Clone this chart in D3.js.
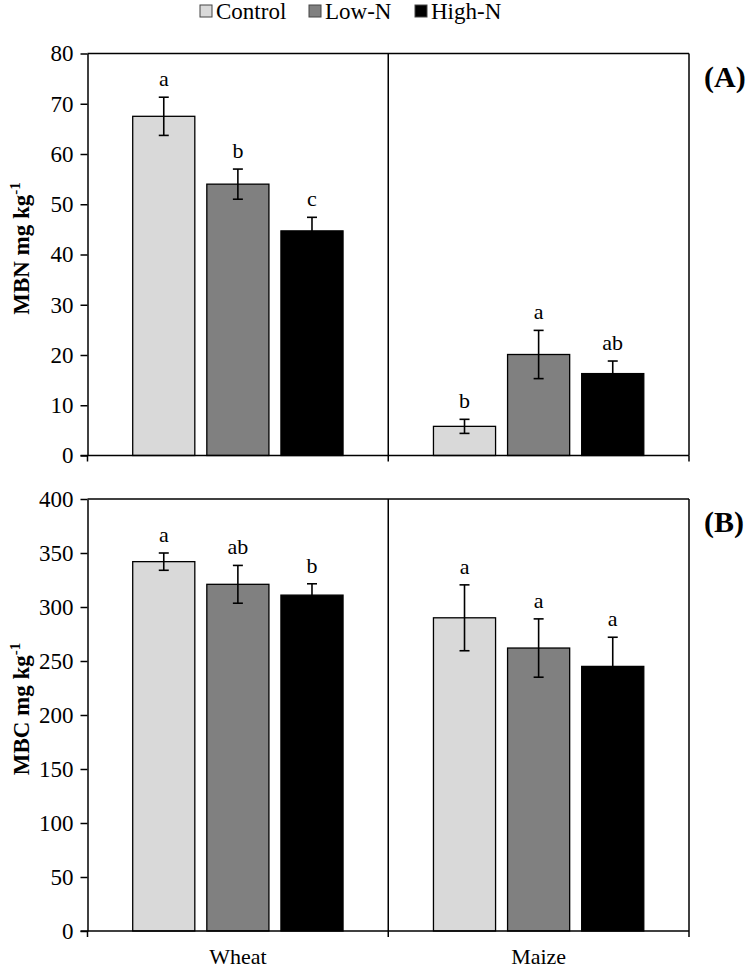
<!DOCTYPE html>
<html>
<head>
<meta charset="utf-8">
<script src="https://cdn.jsdelivr.net/npm/d3@7/dist/d3.min.js"></script>
<style>
  body { margin: 0; background: #fff; }
  svg text { font-family: "Liberation Serif", "Times New Roman", serif; fill: #000; }
</style>
</head>
<body>
<svg id="chart" width="750" height="969"></svg>
<script>
const crops = ["Wheat", "Maize"];
const treatments = ["Control", "Low-N", "High-N"];
const fills = ["#d9d9d9", "#808080", "#000000"];

// MBN (mg/kg), rows = crop, cols = treatment
const mbnMean = [[67.5, 54.0, 44.7], [5.8, 20.1, 16.3]];
const mbnErr  = [[3.8, 3.0, 2.7], [1.4, 4.8, 2.5]];
const mbnSig  = [["a", "b", "c"], ["b", "a", "ab"]];

// MBC (mg/kg)
const mbcMean = [[342, 321, 311], [290, 262, 245]];
const mbcErr  = [[8, 17.5, 10.5], [30.5, 27, 27]];
const mbcSig  = [["a", "ab", "b"], ["a", "a", "a"]];

const mbnTicks = [0, 10, 20, 30, 40, 50, 60, 70, 80];
const mbcTicks = [0, 50, 100, 150, 200, 250, 300, 350, 400];

const FONT = '"Liberation Serif", "Times New Roman", serif';
const svg = d3.select("#chart");
const L = 87.5, R = 689;

const x0 = d3.scaleBand().domain(crops).range([L, R]);
const x1 = d3.scaleBand().domain(treatments).range([0, x0.bandwidth()])
    .paddingInner(0.162).paddingOuter(0.61);

function panel(o) {
    const g = svg.append("g");
    const y = d3.scaleLinear().domain([0, o.max]).range([o.bottom, o.top]);

    // bars
    crops.forEach((c, ci) => {
        treatments.forEach((t, ti) => {
            const x = x0(c) + x1(t);
            const v = o.mean[ci][ti], e = o.err[ci][ti];
            g.append("rect").attr("x", x).attr("y", y(v))
                .attr("width", x1.bandwidth()).attr("height", y(0) - y(v))
                .attr("fill", fills[ti]).attr("stroke", "#000").attr("stroke-width", 1.3);
            const cx = x + x1.bandwidth() / 2;
            const eb = g.append("g").attr("stroke", "#000").attr("stroke-width", 1.6);
            eb.append("line").attr("x1", cx).attr("x2", cx).attr("y1", y(v - e)).attr("y2", y(v + e));
            eb.append("line").attr("x1", cx - 5).attr("x2", cx + 5).attr("y1", y(v + e)).attr("y2", y(v + e));
            eb.append("line").attr("x1", cx - 5).attr("x2", cx + 5).attr("y1", y(v - e)).attr("y2", y(v - e));
            g.append("text").attr("x", cx).attr("y", y(v + e) - 11)
                .attr("text-anchor", "middle").style("font-size", "22px").text(o.sig[ci][ti]);
        });
    });

    // frame
    const fr = g.append("g").attr("stroke", "#000").attr("stroke-width", 1.5).attr("fill", "none");
    fr.append("line").attr("x1", L).attr("x2", R).attr("y1", o.top).attr("y2", o.top);
    fr.append("line").attr("x1", R).attr("x2", R).attr("y1", o.top).attr("y2", o.bottom);
    fr.append("line").attr("x1", x0("Maize")).attr("x2", x0("Maize")).attr("y1", o.top).attr("y2", o.bottom);

    // y axis
    const ya = g.append("g").attr("transform", `translate(${L},0)`)
        .call(d3.axisLeft(y).tickValues(o.ticks).tickSize(7).tickPadding(7).tickSizeOuter(0));
    ya.select(".domain").attr("stroke-width", 1.5);
    ya.selectAll(".tick line").attr("stroke-width", 1.5);
    ya.selectAll(".tick text").style("font-size", "23px").style("font-family", FONT);

    // x axis
    const xa = g.append("g").attr("transform", `translate(0,${o.bottom})`)
        .call(d3.axisBottom(x0).tickSize(0).tickPadding(17).tickSizeOuter(0));
    xa.select(".domain").attr("d", `M${L - 7},0H${R}`).attr("stroke-width", 1.5);
    xa.selectAll(".tick text").style("font-size", "22px").style("font-family", FONT)
        .style("display", o.catLabels ? null : "none");
    [L, x0("Maize"), R].forEach(px => {
        xa.append("line").attr("x1", px).attr("x2", px).attr("y1", 0).attr("y2", 6)
            .attr("stroke", "#000").attr("stroke-width", 1.5);
    });

    // y title
    const t = g.append("text")
        .attr("transform", `translate(29,${(o.top + o.bottom) / 2 - 6}) rotate(-90)`)
        .attr("text-anchor", "middle").style("font-size", "23px").style("font-weight", "bold");
    t.append("tspan").text(o.title);
    t.append("tspan").attr("dy", -9).style("font-size", "15px").text("-1");

    // panel letter
    g.append("text").attr("x", 704).attr("y", o.top + 33)
        .style("font-size", "30px").style("font-weight", "bold").text(o.tag);
}

panel({ top: 53.5, bottom: 455.5, max: 80, ticks: mbnTicks, mean: mbnMean, err: mbnErr,
        sig: mbnSig, title: "MBN mg kg", tag: "(A)", catLabels: false });
panel({ top: 499, bottom: 931, max: 400, ticks: mbcTicks, mean: mbcMean, err: mbcErr,
        sig: mbcSig, title: "MBC mg kg", tag: "(B)", catLabels: true });

// legend
const lg = svg.append("g");
const legX = [200, 309, 415];
treatments.forEach((t, i) => {
    lg.append("rect").attr("x", legX[i]).attr("y", 5).attr("width", 12).attr("height", 12)
        .attr("fill", fills[i]).attr("stroke", "#444").attr("stroke-width", 1);
    lg.append("text").attr("x", legX[i] + 16).attr("y", 19).style("font-size", "23px").text(t);
});
</script>
</body>
</html>
